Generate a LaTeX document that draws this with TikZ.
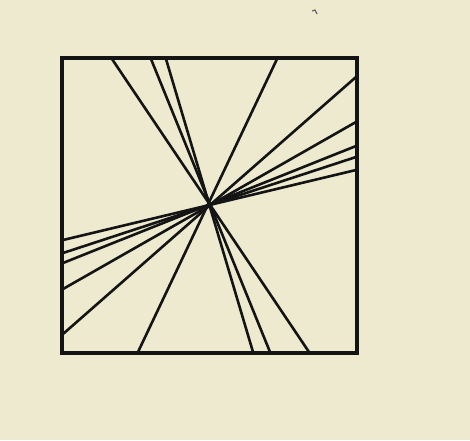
\documentclass[tikz,border=0pt]{standalone}
\begin{document}
\begin{tikzpicture}[x=1pt,y=-1pt,
  ink/.style={draw=black!92, line cap=round, line join=round},
  frame/.style={ink, line width=4.6pt, line join=miter, line cap=rect},
  ray/.style={ink, line width=2.6pt}]
\fill[fill={rgb,255:red,237;green,234;blue,208}] (0,0) rectangle (470,440);
\useasboundingbox (0,0) rectangle (470,440);
% top-to-bottom lines
\draw[ray] (112,59) -- (309,352);
\draw[ray] (151,59) -- (270,352);
\draw[ray] (166,59) -- (253,352);
\draw[ray] (277,59) -- (138,352);
% right-to-left lines
\draw[ray] (356,77) -- (63,334);
\draw[ray] (356,122) -- (63,289);
\draw[ray] (356,146) -- (63,263);
\draw[ray] (356,157) -- (63,253);
\draw[ray] (356,170) -- (63,240);
% frame
\draw[frame] (62,58) rectangle (357,353);
% small mark
\draw[draw=black!60, line width=1.2pt] (312,11) -- (315,10) -- (317,14);
\end{tikzpicture}
\end{document}
